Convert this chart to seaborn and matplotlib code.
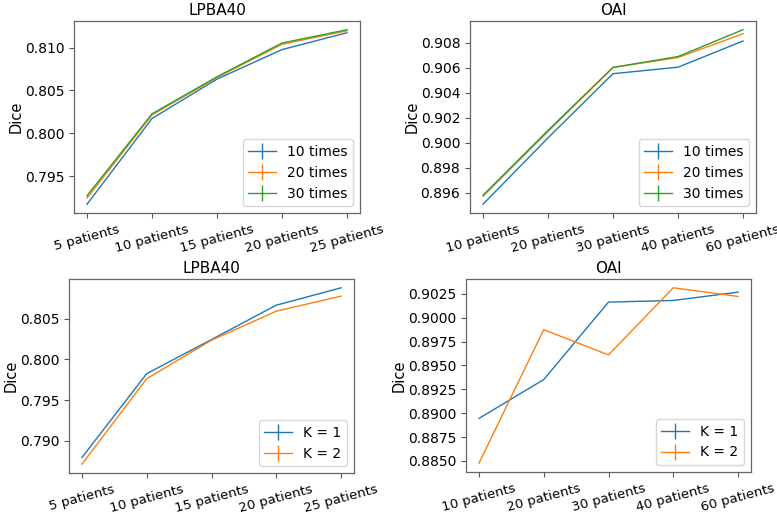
import matplotlib
matplotlib.use("Agg")
import matplotlib.pyplot as plt
from matplotlib.lines import Line2D
from matplotlib.ticker import MultipleLocator
import seaborn as sns
import pandas as pd

# ---- data ----
lpba_x = ["5 patients", "10 patients", "15 patients", "20 patients", "25 patients"]
oai_x = ["10 patients", "20 patients", "30 patients", "40 patients", "60 patients"]

times_labels = ["10 times", "20 times", "30 times"]
lpba_times_10 = [0.79172, 0.80173, 0.80633, 0.80977, 0.81174]
lpba_times_20 = [0.79245, 0.80215, 0.80652, 0.81039, 0.81197]
lpba_times_30 = [0.79272, 0.80227, 0.80660, 0.81054, 0.81209]

oai_times_10 = [0.89510, 0.90040, 0.90552, 0.90604, 0.90813]
oai_times_20 = [0.89574, 0.90090, 0.90602, 0.90681, 0.90871]
oai_times_30 = [0.89582, 0.90100, 0.90602, 0.90689, 0.90903]

k_labels = ["K = 1", "K = 2"]
lpba_k1 = [0.78795, 0.79824, 0.80242, 0.80664, 0.80877]
lpba_k2 = [0.78713, 0.79762, 0.80234, 0.80590, 0.80775]

oai_k1 = [0.88945, 0.89352, 0.90163, 0.90180, 0.90267]
oai_k2 = [0.88476, 0.89874, 0.89610, 0.90313, 0.90222]

colors = ["#1f77b4", "#ff7f0e", "#2ca02c"]

fig = plt.figure(figsize=(7.77, 5.14), dpi=100)

positions = [
    [74 / 777, 1 - 213 / 514, 286 / 777, 192 / 514],
    [470 / 777, 1 - 213 / 514, 286 / 777, 192 / 514],
    [69 / 777, 1 - 473 / 514, 285 / 777, 194 / 514],
    [466 / 777, 1 - 472 / 514, 285 / 777, 193 / 514],
]

panels = [
    ("LPBA40", lpba_x, times_labels, [lpba_times_10, lpba_times_20, lpba_times_30], 0.005),
    ("OAI", oai_x, times_labels, [oai_times_10, oai_times_20, oai_times_30], 0.002),
    ("LPBA40", lpba_x, k_labels, [lpba_k1, lpba_k2], 0.005),
    ("OAI", oai_x, k_labels, [oai_k1, oai_k2], 0.0025),
]

for pos, (title, xs, labels, series, step) in zip(positions, panels):
    ax = fig.add_axes(pos)
    rows = []
    for lab, vals in zip(labels, series):
        for x, v in zip(xs, vals):
            rows.append({"x": x, "Dice": v, "series": lab})
    df = pd.DataFrame(rows)
    sns.lineplot(data=df, x="x", y="Dice", hue="series", palette=colors[:len(labels)],
                 sort=False, linewidth=1.0, ax=ax, legend=False)
    ax.yaxis.set_major_locator(MultipleLocator(step))
    ax.set_title(title, fontsize=11, pad=4)
    ax.set_xlabel("")
    ax.set_ylabel("Dice", fontsize=10.5, labelpad=1)
    ax.tick_params(axis="y", labelsize=10, color="#555555")
    ax.tick_params(axis="x", labelsize=9.5, color="#555555")
    for lbl in ax.get_xticklabels():
        lbl.set_rotation(15)
    for s in ax.spines.values():
        s.set_color("#666666")
        s.set_linewidth(0.9)
    handles = [Line2D([0], [0], color=colors[i], lw=1.0, marker="|", markersize=11,
                      markeredgewidth=1.0) for i in range(len(labels))]
    ax.legend(handles, labels, loc="lower right", fontsize=10)

fig.savefig("out.png", dpi=100)
